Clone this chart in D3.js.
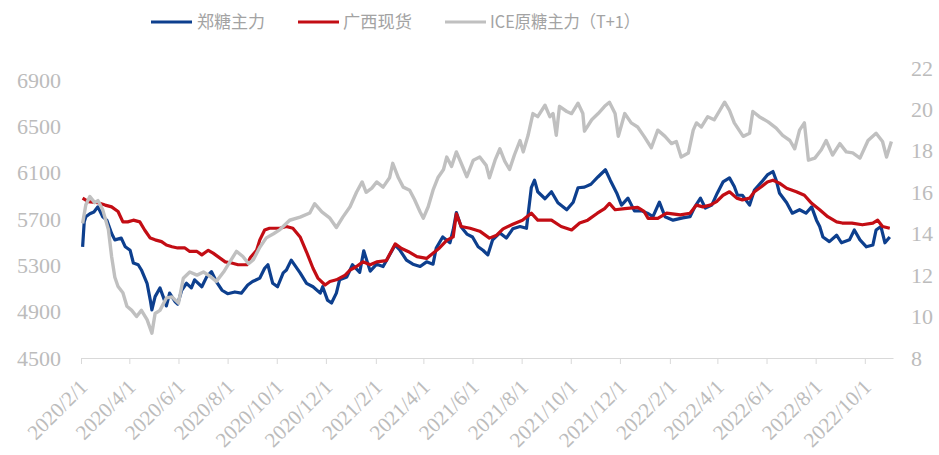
<!DOCTYPE html>
<html>
<head>
<meta charset="utf-8">
<script src="https://cdn.jsdelivr.net/npm/d3@7"></script>
<style>
  body { margin: 0; background: #fff; }
  svg { display: block; }
</style>
</head>
<body>
<div id="chart"></div>
<script>
// 郑糖主力 (left axis, 元/吨)
const zzDates = ["2020-02-03","2020-02-05","2020-02-07","2020-02-12","2020-02-17","2020-02-22","2020-02-28","2020-03-04","2020-03-10","2020-03-14",
  "2020-03-22","2020-03-27","2020-04-02","2020-04-06","2020-04-12","2020-04-16","2020-04-23","2020-04-27","2020-04-29","2020-05-03",
  "2020-05-09","2020-05-13","2020-05-17","2020-05-21","2020-05-28","2020-05-31","2020-06-05","2020-06-11","2020-06-17","2020-06-21",
  "2020-06-30","2020-07-06","2020-07-12","2020-07-18","2020-07-25","2020-08-01","2020-08-10","2020-08-18","2020-08-26","2020-09-01",
  "2020-09-10","2020-09-16","2020-09-20","2020-09-26","2020-10-02","2020-10-09","2020-10-13","2020-10-19","2020-10-30","2020-11-07",
  "2020-11-15","2020-11-24","2020-11-27","2020-12-03","2020-12-08","2020-12-14","2020-12-18","2020-12-27","2021-01-03","2021-01-12",
  "2021-01-17","2021-01-25","2021-02-02","2021-02-10","2021-02-18","2021-02-25","2021-03-03","2021-03-11","2021-03-19","2021-03-28",
  "2021-04-05","2021-04-13","2021-04-17","2021-04-25","2021-05-04","2021-05-08","2021-05-12","2021-05-18","2021-05-25","2021-06-01",
  "2021-06-08","2021-06-14","2021-06-20","2021-06-26","2021-07-05","2021-07-13","2021-07-21","2021-07-30","2021-08-07","2021-08-13",
  "2021-08-17","2021-08-21","2021-08-30","2021-09-07","2021-09-15","2021-09-26","2021-10-04","2021-10-10","2021-10-18","2021-10-26",
  "2021-11-04","2021-11-13","2021-11-19","2021-11-27","2021-12-03","2021-12-11","2021-12-19","2021-12-28","2022-01-04","2022-01-11",
  "2022-01-19","2022-01-26","2022-02-05","2022-02-17","2022-02-26","2022-03-04","2022-03-11","2022-03-17","2022-03-25","2022-04-01",
  "2022-04-08","2022-04-16","2022-04-22","2022-04-26","2022-05-02","2022-05-11","2022-05-17","2022-05-26","2022-06-02","2022-06-09",
  "2022-06-13","2022-06-17","2022-06-26","2022-07-03","2022-07-12","2022-07-20","2022-07-27","2022-08-02","2022-08-06","2022-08-10",
  "2022-08-18","2022-08-27","2022-09-02","2022-09-12","2022-09-18","2022-09-25","2022-10-03","2022-10-11","2022-10-15","2022-10-21",
  "2022-10-26","2022-11-01"];
const zzValues = [5460,5675,5720,5745,5760,5805,5720,5690,5575,5520,
  5535,5460,5430,5320,5305,5260,5145,5000,4915,5030,
  5105,5030,4950,5060,4985,4965,5085,5145,5105,5175,
  5115,5200,5245,5160,5085,5055,5070,5060,5130,5160,
  5190,5275,5305,5145,5115,5235,5260,5345,5235,5145,
  5115,5060,5115,5000,4975,5060,5175,5200,5305,5240,
  5425,5250,5310,5290,5390,5475,5430,5345,5310,5290,
  5330,5310,5450,5545,5495,5605,5755,5630,5570,5545,
  5460,5430,5390,5520,5580,5535,5615,5635,5620,5970,
  6035,5935,5875,5935,5840,5780,5845,5970,5975,6000,
  6065,6125,6035,5925,5820,5880,5770,5770,5750,5720,
  5845,5720,5690,5710,5720,5805,5880,5795,5820,5925,
  6020,6055,5980,5905,5905,5820,5950,6020,6080,6110,
  6035,5925,5840,5750,5780,5750,5805,5690,5635,5545,
  5505,5560,5495,5520,5605,5520,5460,5475,5605,5635,
  5495,5545];

// 广西现货 (left axis)
const gxDates = ["2020-02-03","2020-02-10","2020-02-22","2020-03-02","2020-03-10","2020-03-18","2020-03-24","2020-03-30","2020-04-06","2020-04-14",
  "2020-04-20","2020-04-27","2020-05-03","2020-05-11","2020-05-17","2020-05-24","2020-05-31","2020-06-09","2020-06-15","2020-06-24",
  "2020-06-30","2020-07-08","2020-07-14","2020-07-20","2020-07-29","2020-08-06","2020-08-14","2020-08-25","2020-08-29","2020-09-06",
  "2020-09-10","2020-09-16","2020-09-22","2020-10-05","2020-10-13","2020-10-21","2020-10-30","2020-11-07","2020-11-15","2020-11-21",
  "2020-11-30","2020-12-06","2020-12-14","2020-12-25","2020-12-31","2021-01-08","2021-01-16","2021-01-25","2021-02-02","2021-02-14",
  "2021-02-25","2021-03-05","2021-03-13","2021-03-24","2021-04-05","2021-04-13","2021-04-21","2021-04-30","2021-05-08","2021-05-12",
  "2021-05-18","2021-05-29","2021-06-10","2021-06-22","2021-07-01","2021-07-09","2021-07-21","2021-08-02","2021-08-13","2021-08-21",
  "2021-09-07","2021-09-19","2021-10-02","2021-10-12","2021-10-22","2021-11-03","2021-11-12","2021-11-18","2021-11-25","2021-12-07",
  "2021-12-23","2021-12-31","2022-01-05","2022-01-17","2022-01-28","2022-02-14","2022-02-26","2022-03-06","2022-03-14","2022-03-23",
  "2022-03-31","2022-04-08","2022-04-16","2022-04-25","2022-05-02","2022-05-11","2022-05-17","2022-05-26","2022-06-02","2022-06-09",
  "2022-06-17","2022-06-26","2022-07-08","2022-07-18","2022-07-27","2022-08-06","2022-08-16","2022-08-27","2022-09-03","2022-09-15",
  "2022-09-28","2022-10-11","2022-10-17","2022-10-23","2022-11-01"];
const gxValues = [5880,5850,5840,5820,5805,5765,5675,5675,5690,5675,
  5605,5535,5520,5505,5475,5460,5450,5450,5420,5420,
  5390,5430,5405,5375,5330,5320,5305,5305,5365,5430,
  5520,5605,5620,5620,5635,5620,5545,5415,5275,5190,
  5130,5160,5175,5215,5260,5290,5330,5305,5330,5340,
  5485,5445,5420,5375,5360,5405,5450,5515,5545,5745,
  5635,5620,5595,5535,5560,5615,5655,5690,5750,5690,
  5690,5635,5605,5665,5690,5750,5790,5835,5780,5790,
  5800,5765,5705,5705,5750,5735,5750,5820,5805,5820,
  5850,5905,5935,5880,5865,5880,5935,5980,6020,6035,
  6010,5965,5935,5905,5835,5780,5720,5675,5665,5665,
  5650,5665,5690,5635,5620];

// ICE原糖主力（T+1）(right axis, 美分/磅)
const iceDates = ["2020-02-03","2020-02-07","2020-02-12","2020-02-18","2020-02-22","2020-02-28","2020-03-06","2020-03-10","2020-03-14","2020-03-18",
  "2020-03-24","2020-03-29","2020-04-04","2020-04-10","2020-04-16","2020-04-23","2020-04-29","2020-05-03","2020-05-09","2020-05-17",
  "2020-05-24","2020-06-01","2020-06-07","2020-06-15","2020-06-24","2020-07-02","2020-07-10","2020-07-18","2020-07-27","2020-08-04",
  "2020-08-12","2020-08-20","2020-08-27","2020-09-02","2020-09-10","2020-09-18","2020-09-27","2020-10-05","2020-10-17","2020-10-30",
  "2020-11-11","2020-11-17","2020-11-26","2020-12-06","2020-12-14","2020-12-22","2020-12-31","2021-01-08","2021-01-15","2021-01-20",
  "2021-01-27","2021-02-02","2021-02-10","2021-02-18","2021-02-22","2021-03-01","2021-03-07","2021-03-15","2021-03-21","2021-03-28",
  "2021-04-01","2021-04-07","2021-04-13","2021-04-19","2021-04-26","2021-04-30","2021-05-06","2021-05-12","2021-05-18","2021-05-25",
  "2021-06-02","2021-06-10","2021-06-18","2021-06-22","2021-06-29","2021-07-05","2021-07-11","2021-07-17","2021-07-23","2021-07-30",
  "2021-08-03","2021-08-09","2021-08-15","2021-08-21","2021-08-30","2021-09-05","2021-09-09","2021-09-13","2021-09-17","2021-09-26",
  "2021-10-02","2021-10-10","2021-10-16","2021-10-18","2021-10-27","2021-11-04","2021-11-12","2021-11-18","2021-11-25","2021-11-29",
  "2021-12-07","2021-12-15","2021-12-23","2021-12-31","2022-01-09","2022-01-17","2022-01-26","2022-02-03","2022-02-09","2022-02-15",
  "2022-02-24","2022-03-02","2022-03-06","2022-03-12","2022-03-20","2022-03-28","2022-04-04","2022-04-10","2022-04-16","2022-04-22",
  "2022-05-03","2022-05-11","2022-05-15","2022-05-23","2022-06-03","2022-06-13","2022-06-21","2022-06-30","2022-07-06","2022-07-12",
  "2022-07-18","2022-07-23","2022-07-31","2022-08-08","2022-08-14","2022-08-22","2022-08-31","2022-09-08","2022-09-16","2022-09-25",
  "2022-10-05","2022-10-15","2022-10-23","2022-10-28","2022-11-03"];
const iceValues = [14.5,15.4,15.8,15.5,15.6,15.15,14.2,12.9,11.9,11.45,
  11.15,10.5,10.3,10.0,10.3,9.85,9.2,10.15,10.3,10.9,
  10.95,10.65,11.85,12.15,12.0,12.15,11.95,11.7,12.15,12.65,
  13.15,12.9,12.55,12.75,13.35,13.8,14.0,14.2,14.65,14.8,
  15.0,15.45,15.05,14.75,14.3,14.8,15.3,16.0,16.5,16.0,
  16.2,16.5,16.25,16.7,17.4,16.7,16.25,16.1,15.65,15.05,
  14.75,15.3,16.1,16.7,17.1,17.7,17.25,17.95,17.4,16.75,
  17.55,17.7,17.3,16.7,17.55,18.1,17.5,17.1,17.8,18.5,
  17.95,18.75,19.8,19.65,20.2,19.65,19.8,18.75,20.15,19.9,
  19.8,20.3,19.8,18.95,19.5,19.8,20.15,20.35,19.8,18.7,
  19.8,19.35,19.15,18.7,18.15,19.0,18.7,18.35,18.45,17.7,
  17.9,19.0,19.35,19.15,19.65,19.5,19.95,20.35,19.95,19.35,
  18.7,18.85,19.9,19.65,19.4,19.1,18.75,18.5,18.1,19.0,
  19.35,17.55,17.65,18.05,18.5,17.8,18.35,17.95,17.9,17.65,
  18.5,18.85,18.45,17.7,18.45];

const xTickDates = ["2020-02-01","2020-04-01","2020-06-01","2020-08-01","2020-10-01","2020-12-01",
  "2021-02-01","2021-04-01","2021-06-01","2021-08-01","2021-10-01","2021-12-01",
  "2022-02-01","2022-04-01","2022-06-01","2022-08-01","2022-10-01"];
const leftTicks = [4500, 4900, 5300, 5700, 6100, 6500, 6900];
const rightTicks = [8, 10, 12, 14, 16, 18, 20, 22];

const seriesNames = ["郑糖主力", "广西现货", "ICE原糖主力（T+1）"];
const seriesColors = ["#0d3f8e", "#c30d14", "#c0c0c0"];

const width = 939, height = 455;
const parse = d3.timeParse("%Y-%m-%d");
const fmt = d3.timeFormat("%Y/%-m/%-d");

const svg = d3.select("#chart").append("svg")
  .attr("width", width)
  .attr("height", height);

// scales
const x = d3.scaleTime()
  .domain([parse("2020-02-01"), parse("2022-11-05")])
  .range([81, 893]);
const yLeft = d3.scaleLinear().domain([4500, 6900]).range([358, 80]);
const yRight = d3.scaleLinear().domain([8, 22]).range([358, 68]);

const numFont = "'Liberation Serif', 'Times New Roman', serif";
const axisColor = "#bcbcbc";

// x axis
const xAxis = svg.append("g")
  .attr("transform", "translate(0,358)")
  .call(d3.axisBottom(x)
    .tickValues(xTickDates.map(parse))
    .tickFormat(fmt)
    .tickSize(6)
    .tickSizeOuter(0));
xAxis.select(".domain").attr("stroke", "#d9d9d9");
xAxis.selectAll(".tick line").attr("stroke", "#d9d9d9");
xAxis.selectAll(".tick text")
  .attr("x", 0).attr("y", 0).attr("dy", "0.35em")
  .attr("transform", "translate(2,25) rotate(-45)")
  .style("text-anchor", "end")
  .attr("fill", axisColor)
  .style("font-family", numFont)
  .style("font-size", "21px");

// left axis
const leftAxis = svg.append("g")
  .attr("transform", "translate(61,0)")
  .call(d3.axisLeft(yLeft).tickValues(leftTicks).tickFormat(d3.format("d")).tickSize(0).tickPadding(0));
leftAxis.select(".domain").remove();
leftAxis.selectAll("text")
  .attr("fill", axisColor)
  .style("font-family", numFont)
  .style("font-size", "22px");

// right axis
const rightAxis = svg.append("g")
  .attr("transform", "translate(911,0)")
  .call(d3.axisRight(yRight).tickValues(rightTicks).tickFormat(d3.format("d")).tickSize(0).tickPadding(0));
rightAxis.select(".domain").remove();
rightAxis.selectAll("text")
  .attr("fill", axisColor)
  .style("font-family", numFont)
  .style("font-size", "22px");

// lines
const leftLine = d3.line().x(d => x(d.date)).y(d => yLeft(d.value));
const rightLine = d3.line().x(d => x(d.date)).y(d => yRight(d.value));

function toPoints(dates, values) {
  return dates.map((d, i) => ({ date: parse(d), value: values[i] }));
}

const series = [
  { pts: toPoints(zzDates, zzValues), line: leftLine, color: seriesColors[0], w: 3.2 },
  { pts: toPoints(gxDates, gxValues), line: leftLine, color: seriesColors[1], w: 3.2 },
  { pts: toPoints(iceDates, iceValues), line: rightLine, color: seriesColors[2], w: 3.4 }
];

svg.append("g").selectAll("path")
  .data(series)
  .join("path")
  .attr("fill", "none")
  .attr("stroke", d => d.color)
  .attr("stroke-width", d => d.w)
  .attr("stroke-linejoin", "round")
  .attr("d", d => d.line(d.pts));

// legend
const legendItems = [
  { x: 151, textX: 197, textW: 68 },
  { x: 298, textX: 343, textW: 69 },
  { x: 445, textX: 490, textW: 150 }
];
const legend = svg.append("g").selectAll("g")
  .data(legendItems)
  .join("g");
legend.append("line")
  .attr("x1", d => d.x).attr("x2", d => d.x + 41)
  .attr("y1", 22).attr("y2", 22)
  .attr("stroke", (d, i) => seriesColors[i])
  .attr("stroke-width", 3);
legend.append("text")
  .attr("x", d => d.textX)
  .attr("y", 22)
  .attr("dy", "0.36em")
  .attr("textLength", d => d.textW)
  .attr("lengthAdjust", "spacingAndGlyphs")
  .attr("fill", "#a3a3a3")
  .style("font-family", "'Noto Sans CJK SC', sans-serif")
  .style("font-size", "17px")
  .text((d, i) => seriesNames[i]);
</script>
</body>
</html>
